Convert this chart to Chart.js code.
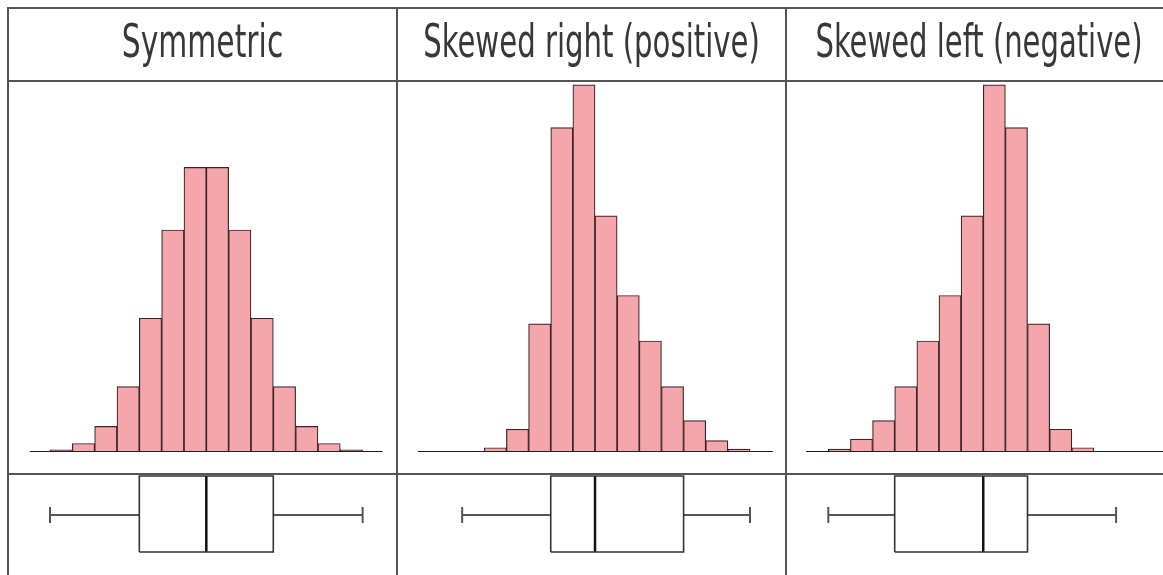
<!DOCTYPE html>
<html>
<head>
<meta charset="utf-8">
<script src="https://cdn.jsdelivr.net/npm/chart.js@4/dist/chart.umd.min.js"></script>
<style>
  html, body { margin: 0; padding: 0; background: #fff; }
  #wrap { position: relative; width: 1163px; height: 575px; overflow: hidden; background: #fff; }
  #wrap canvas { position: absolute; }
  .rule { position: absolute; background: #555; }
</style>
</head>
<body>
<div id="wrap"></div>
<script>
// Panel titles
const titles = ['Symmetric', 'Skewed right (positive)', 'Skewed left (negative)'];

// Histogram frequencies, one value per bin (bins are one unit wide, starting at 0)
const symmetricCounts = [0.8, 3, 9, 23, 47, 78, 100, 100, 78, 47, 23, 9, 3, 0.8];
const rightSkewCounts = [1.5, 8, 45, 114, 129, 83, 55, 39, 23, 11, 4, 1];
const leftSkewCounts  = [1, 4.5, 11, 23, 39, 55, 83, 129, 114, 45, 8, 1.5];

// Five-number summaries: min, Q1, median, Q3, max (same units as the bins)
const symmetricBox = [0, 4, 7, 10, 14];
const rightSkewBox = [-1, 3, 5, 9, 12];
const leftSkewBox  = [0, 3, 7, 9, 13];

// Horizontal reach of each panel's x axis and of its baseline
const panels = [
  { title: titles[0], counts: symmetricCounts, box: symmetricBox, left: 9,   width: 387, xMin: -1.836, xMax: 15.495, base: [-0.9, 14.9],  squeeze: 0.72 },
  { title: titles[1], counts: rightSkewCounts, box: rightSkewBox, left: 398, width: 387, xMin: -3.898, xMax: 13.58,  base: [-3.0, 13.03], squeeze: 0.87 },
  { title: titles[2], counts: leftSkewCounts,  box: leftSkewBox,  left: 787, width: 376, xMin: -1.865, xMax: 15.12,  base: [-1.0, 15.12], squeeze: 0.87 }
];

const wrap = document.getElementById('wrap');
Chart.defaults.animation = false;
Chart.defaults.font.family = "'DejaVu Sans Condensed', 'DejaVu Sans', sans-serif";

// Draws the chart title in a horizontally condensed form (narrow display face)
const condensedTitle = {
  id: 'condensedTitle',
  afterLayout(chart, args, opts) {
    const block = chart.titleBlock;
    if (!block || block._condensed) return;
    const draw = block.draw.bind(block);
    block.draw = function () {
      const ctx = chart.ctx;
      const cx = (block.left + block.right) / 2 + (opts.shift || 0);
      ctx.save();
      ctx.translate(cx, 0);
      ctx.scale(opts.factor || 1, 1);
      ctx.translate(-(block.left + block.right) / 2, 0);
      draw();
      ctx.restore();
    };
    block._condensed = true;
  }
};

function makeCanvas(left, top, width, height) {
  const c = document.createElement('canvas');
  c.width = width; c.height = height;
  c.style.left = left + 'px'; c.style.top = top + 'px';
  c.style.width = width + 'px'; c.style.height = height + 'px';
  wrap.appendChild(c);
  return c;
}

function xScale(p) {
  return { type: 'linear', display: false, offset: false, min: p.xMin, max: p.xMax,
           grid: { offset: false }, ticks: { stepSize: 1, includeBounds: false } };
}

panels.forEach((p, k) => {
  // Histogram with the panel title above it
  const hist = makeCanvas(p.left, 9, p.width, 464);
  new Chart(hist, {
    type: 'bar',
    plugins: [condensedTitle],
    data: {
      datasets: [
        {
          type: 'line',
          data: [{ x: p.base[0], y: 0 }, { x: p.base[1], y: 0 }],
          borderColor: '#1e1e1e', borderWidth: 2, pointRadius: 0, order: 0
        },
        {
          type: 'bar',
          data: p.counts.map((c, i) => ({ x: i + 0.5, y: c })),
          backgroundColor: '#f4a6ab', borderColor: '#3f2427', borderWidth: 1.2,
          barThickness: 'flex', barPercentage: 1, categoryPercentage: 1, order: 1
        }
      ]
    },
    options: {
      responsive: false, devicePixelRatio: 1,
      layout: { padding: { top: 0, bottom: 21, left: 0, right: 0 } },
      plugins: {
        legend: { display: false }, tooltip: { enabled: false },
        title: {
          display: true, text: p.title, color: '#383838',
          font: { size: 46, weight: 'normal', lineHeight: 1.587 },
          padding: { top: 0, bottom: 0 }
        },
        condensedTitle: { factor: p.squeeze, shift: k === 2 ? 4 : 0 }
      },
      scales: {
        x: xScale(p),
        y: { display: false, min: 0, max: 130 }
      }
    }
  });

  // Box plot below the histogram
  const [mn, q1, md, q3, mx] = p.box;
  const lo = 23, hi = 99, mid = 60, capLo = 52, capHi = 68;
  const seg = (pts, color, w) => ({
    data: pts.map(([x, y]) => ({ x, y })), showLine: true, borderColor: color,
    borderWidth: w, pointRadius: 0, fill: false
  });
  const bp = makeCanvas(p.left, 475, p.width, 100);
  new Chart(bp, {
    type: 'scatter',
    data: {
      datasets: [
        seg([[q1, lo], [q3, lo], [q3, hi], [q1, hi], [q1, lo]], '#333', 1.6),
        seg([[md, lo], [md, hi]], '#111', 2.5),
        seg([[mn, mid], [q1, mid]], '#555', 2),
        seg([[q3, mid], [mx, mid]], '#555', 2),
        seg([[mn, capLo], [mn, capHi]], '#555', 2),
        seg([[mx, capLo], [mx, capHi]], '#555', 2)
      ]
    },
    options: {
      responsive: false, devicePixelRatio: 1,
      layout: { padding: 0 },
      plugins: { legend: { display: false }, tooltip: { enabled: false } },
      scales: {
        x: xScale(p),
        y: { display: false, min: 0, max: 100 }
      }
    }
  });
});

// Table rules framing the three panels
[
  [7, 7, 1156, 2], [7, 80, 1156, 2], [7, 473, 1156, 2],
  [7, 7, 2, 568], [396, 7, 2, 568], [785, 7, 2, 568]
].forEach(([l, t, w, h]) => {
  const d = document.createElement('div');
  d.className = 'rule';
  d.style.left = l + 'px'; d.style.top = t + 'px';
  d.style.width = w + 'px'; d.style.height = h + 'px';
  wrap.appendChild(d);
});
</script>
</body>
</html>
